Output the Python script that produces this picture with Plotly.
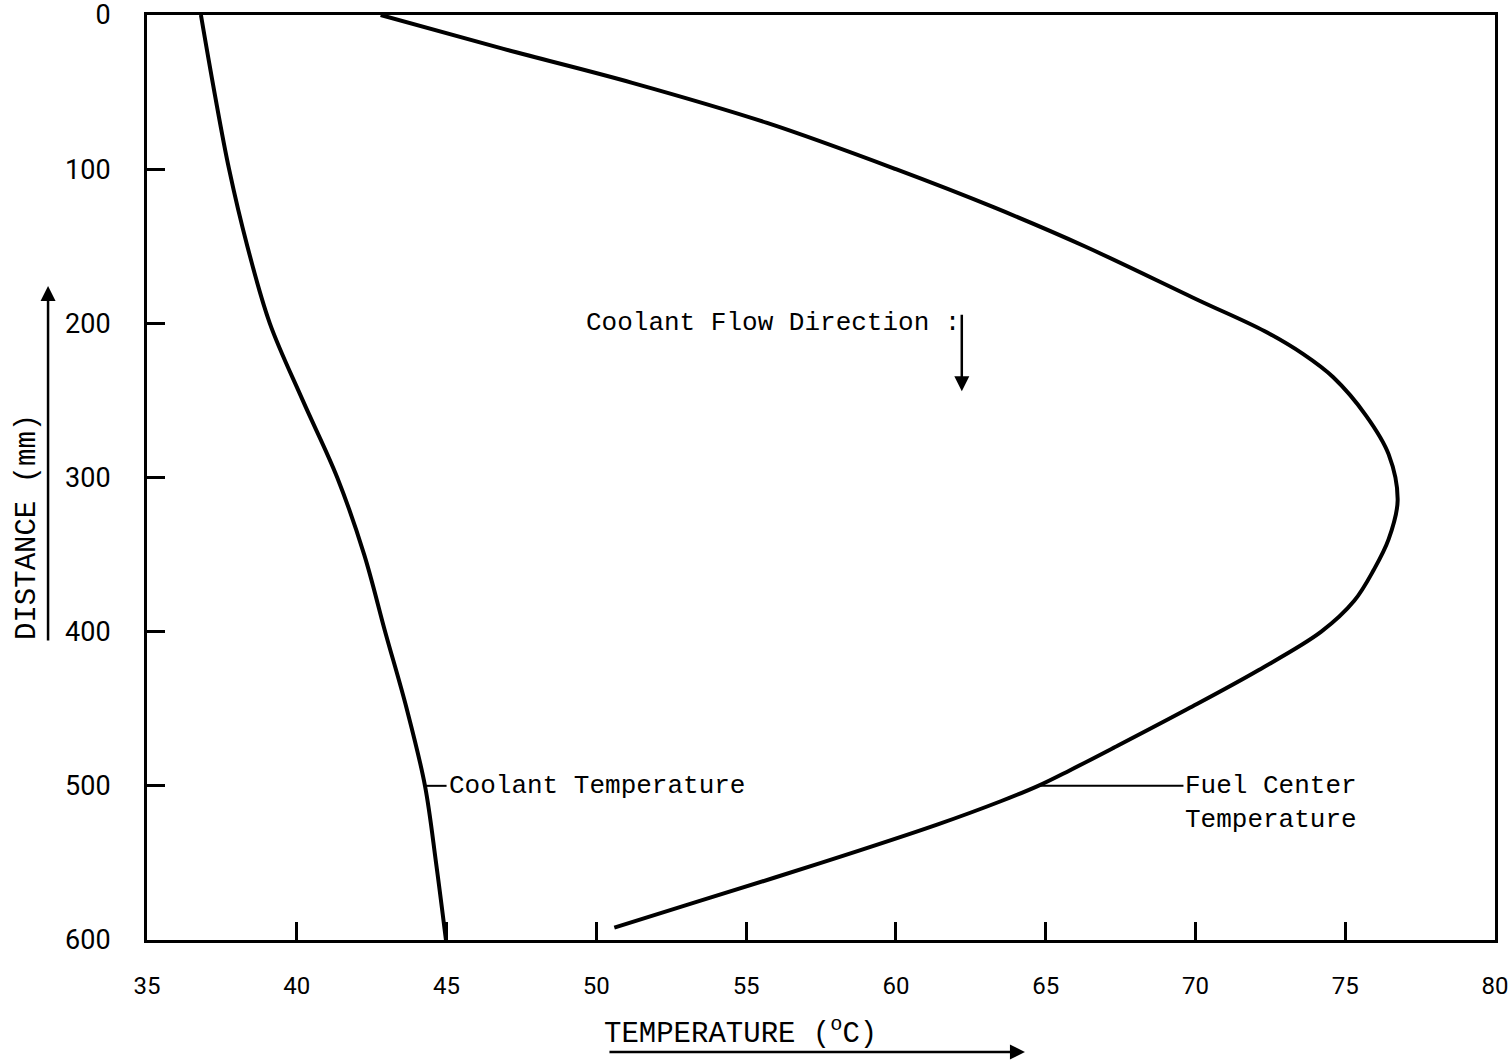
import plotly.graph_objects as go

# ---- data ----
coolant_distance = [0, 50, 100, 150, 200, 250, 300, 350, 400, 450, 500, 550, 600]
coolant_temp = [36.8, 37.25, 37.74, 38.35, 39.1, 40.2, 41.35, 42.25, 42.95, 43.67, 44.28, 44.65, 44.98]

fuel_distance = [0, 22, 44, 70, 100, 125, 150, 185, 205, 220, 235, 260, 285, 315, 340, 360, 380,
                 400, 425, 450, 475, 490, 500, 510, 525, 550, 575, 592]
fuel_temp = [42.8, 46.9, 51.2, 55.7, 60.0, 63.3, 66.3, 70.1, 72.3, 73.6, 74.6, 75.7, 76.45, 76.75,
             76.45, 75.95, 75.3, 74.2, 72.1, 69.75, 67.3, 65.8, 64.75, 63.5, 61.4, 57.5, 53.4, 50.6]

x_ticks = [35, 40, 45, 50, 55, 60, 65, 70, 75, 80]
y_ticks = [0, 100, 200, 300, 400, 500, 600]

MONO = "Courier New, Liberation Mono, monospace"
SANS = "Liberation Sans Narrow, Roboto, Liberation Sans, sans-serif"

fig = go.Figure()
fig.add_trace(go.Scatter(x=coolant_temp, y=coolant_distance, mode="lines",
                         line=dict(color="black", width=4, shape="spline", smoothing=1.0),
                         showlegend=False, hoverinfo="skip"))
fig.add_trace(go.Scatter(x=fuel_temp, y=fuel_distance, mode="lines",
                         line=dict(color="black", width=4, shape="spline", smoothing=1.0),
                         showlegend=False, hoverinfo="skip"))

# leader lines for the curve labels
fig.add_shape(type="line", x0=44.3, x1=45.0, y0=500, y1=500, line=dict(color="black", width=2))
fig.add_shape(type="line", x0=64.8, x1=69.6, y0=500, y1=500, line=dict(color="black", width=2))

fig.add_annotation(x=45.0, y=500, text="Coolant Temperature", showarrow=False, xanchor="left",
                   yanchor="middle", font=dict(family=MONO, size=26, color="black"))
fig.add_annotation(x=69.6, y=489, text="Fuel Center<br>Temperature", showarrow=False, xanchor="left",
                   yanchor="top", align="left", font=dict(family=MONO, size=26, color="black"))
fig.add_annotation(x=49.6, y=200, text="Coolant Flow Direction :", showarrow=False, xanchor="left",
                   yanchor="middle", font=dict(family=MONO, size=26, color="black"))
# coolant flow arrow
fig.add_annotation(x=62.2, y=244, ax=0, ay=-78, showarrow=True, arrowhead=2, arrowsize=1.2,
                   arrowwidth=2.5, arrowcolor="black", text="")

# axis titles and their arrows
fig.add_annotation(xref="paper", yref="paper", x=-0.0883, y=0.4465, text="DISTANCE (mm)", textangle=-90,
                   xanchor="center", yanchor="middle",
                   showarrow=False, font=dict(family=MONO, size=29, color="black"))
fig.add_annotation(xref="paper", yref="paper", x=-0.0734, y=0.707, ax=0, ay=356, showarrow=True,
                   arrowhead=2, arrowsize=1.2, arrowwidth=2.5, arrowcolor="black", text="")
fig.add_annotation(xref="paper", yref="paper", x=0.44, y=-0.0995, text="TEMPERATURE (<sup>o</sup>C)",
                   xanchor="center", yanchor="middle",
                   showarrow=False, font=dict(family=MONO, size=29, color="black"))
fig.add_annotation(xref="paper", yref="paper", x=0.6513, y=-0.1211, ax=-417, ay=0, showarrow=True,
                   arrowhead=2, arrowsize=1.2, arrowwidth=2.5, arrowcolor="black", text="")

fig.update_xaxes(range=[35, 80], tickvals=x_ticks, ticktext=[str(v) for v in x_ticks],
                 ticks="inside", ticklen=18, tickwidth=3, tickcolor="black",
                 showline=True, linewidth=3, linecolor="black", mirror=True,
                 showgrid=False, zeroline=False, ticklabelstandoff=22, automargin=False,
                 ticklabeloverflow="allow",
                 tickfont=dict(family=SANS, size=24, color="black"))
fig.update_yaxes(range=[600, 0], tickvals=y_ticks, ticktext=[str(v) for v in y_ticks],
                 ticks="inside", ticklen=18, tickwidth=3, tickcolor="black",
                 showline=True, linewidth=3, linecolor="black", mirror=True,
                 showgrid=False, zeroline=False, ticklabelstandoff=28, automargin=False,
                 ticklabeloverflow="allow",
                 tickfont=dict(family=SANS, size=27, color="black"))

fig.update_layout(width=1511, height=1060, margin=dict(l=147, r=16, t=15, b=120),
                  paper_bgcolor="white", plot_bgcolor="white")

# remove the browser's default body margin so the figure sits at the page origin
fig.write_html("out.html", config={"displayModeBar": False},
               post_script="document.body.style.margin='0px';")
